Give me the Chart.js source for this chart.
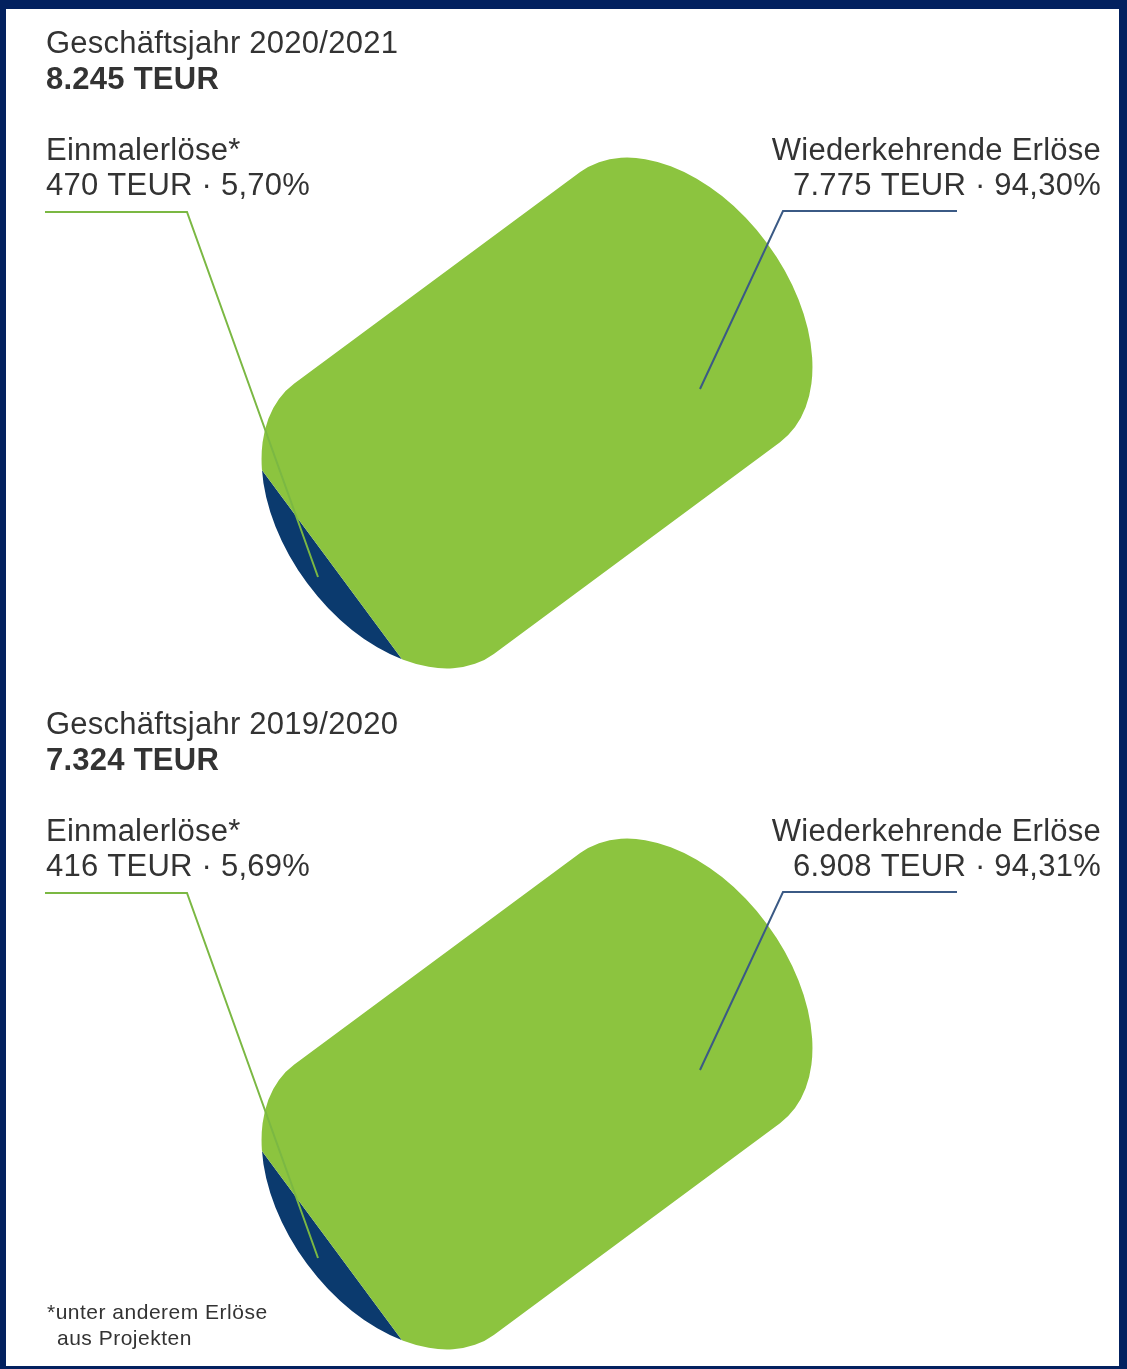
<!DOCTYPE html>
<html lang="de">
<head>
<meta charset="utf-8">
<script src="https://cdn.jsdelivr.net/npm/chart.js@4"></script>
<style>
    body { margin: 0; width: 1127px; height: 1369px; background: #03215f; position: relative; overflow: hidden; }
    #panel { position: absolute; left: 6px; top: 9px; width: 1113px; height: 1357px; background: #fff; }
    canvas { position: absolute; left: 0; }
    #chart2021 { top: 0; }
    #chart2020 { top: 681px; }
</style>
</head>
<body>
<div id="panel"></div>
<canvas id="chart2021" width="1127" height="681"></canvas>
<canvas id="chart2020" width="1127" height="688"></canvas>
<script>
const FY_LABELS = ['Geschäftsjahr 2020/2021', 'Geschäftsjahr 2019/2020'];
const FY_TOTALS = [8245, 7324];
const CATEGORIES = ['Einmalerlöse*', 'Wiederkehrende Erlöse'];
const VALUES_2021 = [470, 7775];
const VALUES_2020 = [416, 6908];
const SHARES_2021 = ['5,70', '94,30'];
const SHARES_2020 = ['5,69', '94,31'];
const FOOTNOTE = ['*unter anderem Erlöse', 'aus Projekten'];

const GREEN = '#8cc43f';
const NAVY = '#0b3a6e';
const TEXT = '#333333';
const FONT = '"Liberation Sans", Arial, sans-serif';

// tilted "capsule" the pie is shown through
const shape = { cx: 537, cy: 413, angle: -36.5, half: 178, cap: 108, width: 168, chord: -255 };
const theta = shape.angle * Math.PI / 180;

function toScreen(u, n) {
    return [
        shape.cx + u * Math.cos(theta) - n * Math.sin(theta),
        shape.cy + u * Math.sin(theta) + n * Math.cos(theta)
    ];
}

// pie centre sits on the chord line, outside the shape, so the slice edge is a straight cut
const pieCentre = toScreen(shape.chord, -420);
const pieRadius = 900;

function fmt(n) {
    return String(n).replace(/\B(?=(\d{3})+(?!\d))/g, '.');
}

function shapePath(ctx) {
    ctx.save();
    ctx.translate(shape.cx, shape.cy);
    ctx.rotate(theta);
    ctx.beginPath();
    ctx.moveTo(-shape.half, -shape.width);
    ctx.lineTo(shape.half, -shape.width);
    ctx.ellipse(shape.half, 0, shape.cap, shape.width, 0, -Math.PI / 2, Math.PI / 2);
    ctx.lineTo(-shape.half, shape.width);
    ctx.ellipse(-shape.half, 0, shape.cap, shape.width, 0, Math.PI / 2, Math.PI * 1.5);
    ctx.closePath();
    ctx.restore();
}

function polyline(ctx, pts, color) {
    ctx.beginPath();
    ctx.moveTo(pts[0][0], pts[0][1]);
    for (const p of pts.slice(1)) ctx.lineTo(p[0], p[1]);
    ctx.strokeStyle = color;
    ctx.lineWidth = 2;
    ctx.stroke();
}

const capsulePlugin = {
    id: 'capsule',
    beforeDatasetsDraw(chart) {
        const ctx = chart.ctx;
        const arc = chart.getDatasetMeta(0).data[0];
        const k = pieRadius / arc.outerRadius;
        ctx.save();
        shapePath(ctx);
        ctx.clip();
        ctx.translate(pieCentre[0], pieCentre[1]);
        ctx.scale(k, k);
        ctx.translate(-arc.x, -arc.y);
    },
    afterDatasetsDraw(chart) {
        const ctx = chart.ctx;
        ctx.restore();

        const o = chart.options.plugins.capsule;
        ctx.save();
        polyline(ctx, [[45, 212], [187, 212], [318, 577]], '#7bb843');
        polyline(ctx, [[957, 211], [783, 211], [700, 389]], '#3b5a85');

        ctx.fillStyle = TEXT;
        ctx.textBaseline = 'alphabetic';
        ctx.textAlign = 'left';
        ctx.letterSpacing = '0.25px';
        ctx.font = '31px ' + FONT;
        ctx.fillText(o.year, 46, 53);
        ctx.font = 'bold 31px ' + FONT;
        ctx.fillText(fmt(o.total) + ' TEUR', 46, 89);

        ctx.font = '31px ' + FONT;
        const vals = chart.data.datasets[0].data;
        ctx.fillText(chart.data.labels[0], 46, 160);
        ctx.fillText(fmt(vals[0]) + ' TEUR · ' + o.shares[0] + '%', 46, 195);
        ctx.textAlign = 'right';
        ctx.fillText(chart.data.labels[1], 1101, 160);
        ctx.fillText(fmt(vals[1]) + ' TEUR · ' + o.shares[1] + '%', 1101, 195);

        if (o.footnote) {
            ctx.textAlign = 'left';
            ctx.font = '21px ' + FONT;
            ctx.letterSpacing = '0.5px';
            ctx.fillText(o.footnote[0], 47, 638);
            ctx.fillText(o.footnote[1], 57, 664);
        }
        ctx.restore();
    }
};

function makeChart(id, year, total, values, shares, footnote) {
    return new Chart(document.getElementById(id).getContext('2d'), {
        type: 'pie',
        data: {
            labels: CATEGORIES,
            datasets: [{
                data: values,
                backgroundColor: [NAVY, GREEN],
                borderWidth: 0,
                clip: false,
            }],
        },
        options: {
            responsive: false,
            animation: false,
            rotation: shape.angle + 180,
            plugins: {
                legend: { display: false },
                tooltip: { enabled: false },
                capsule: { year: year, total: total, shares: shares, footnote: footnote },
            },
        },
        plugins: [capsulePlugin],
    });
}

makeChart('chart2021', FY_LABELS[0], FY_TOTALS[0], VALUES_2021, SHARES_2021, null);
makeChart('chart2020', FY_LABELS[1], FY_TOTALS[1], VALUES_2020, SHARES_2020, FOOTNOTE);
</script>
</body>
</html>
